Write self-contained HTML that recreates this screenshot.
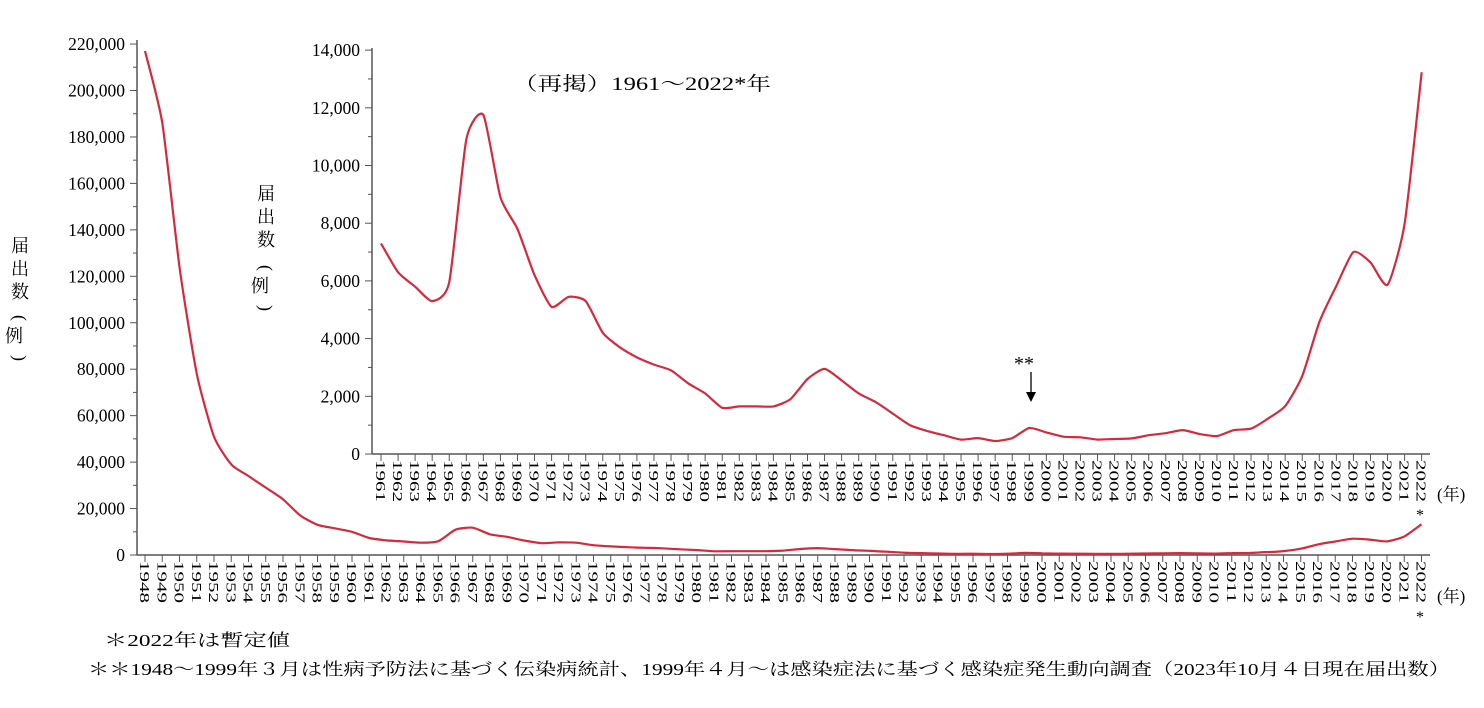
<!DOCTYPE html>
<html><head><meta charset="utf-8"><style>
body{margin:0;background:#fff;}
svg{display:block;font-family:"Liberation Serif","Noto Serif CJK SC",serif;}
</style></head><body>
<svg id="s" width="1484" height="708" xmlns="http://www.w3.org/2000/svg"></svg>
<script>
const s=document.getElementById('s');let h='';
const main=[217000,186000,124000,78000,51000,39000,34000,29000,24000,17000,13000,11500,10000];
const ins=[7300,6300,5800,5300,5950,10900,11750,8900,7800,6200,5100,5450,5300,4200,3700,3350,3100,2900,2450,2100,1600,1650,1650,1650,1900,2600,2950,2550,2100,1800,1400,1000,800,650,500,550,450,550,900,750,600,580,500,520,540,650,720,830,690,620,830,880,1230,1660,2700,4570,5830,7000,6640,5870,7980,13230];
const all=main.concat(ins);
const col="#d42a3c";
function smooth(pts){let d=`M${pts[0][0]},${pts[0][1]}`;for(let i=0;i<pts.length-1;i++){const p0=pts[i-1]||pts[i],p1=pts[i],p2=pts[i+1],p3=pts[i+2]||p2;const t=0.1;
d+=` C${(p1[0]+(p2[0]-p0[0])*t).toFixed(1)},${(p1[1]+(p2[1]-p0[1])*t).toFixed(1)} ${(p2[0]-(p3[0]-p1[0])*t).toFixed(1)},${(p2[1]-(p3[1]-p1[1])*t).toFixed(1)} ${p2[0].toFixed(1)},${p2[1].toFixed(1)}`;}return d;}
const mx0=145,mdx=17.25,my0=555,mk=46.45/20000;
h+=`<line x1="137" y1="40" x2="137" y2="555" stroke="#555" stroke-width="1.5"/><line x1="137" y1="555" x2="1430" y2="555" stroke="#555" stroke-width="1.5"/>`;
for(let i=0;i<=11;i++){let y=my0-i*20000*mk;h+=`<line x1="130" y1="${y}" x2="137" y2="${y}" stroke="#555"/>`;
if(i<11){let y2=y-10000*mk;h+=`<line x1="133" y1="${y2}" x2="137" y2="${y2}" stroke="#555"/>`;}
h+=`<text x="125" y="${y+6}" font-size="17.5" text-anchor="end">${i?(i*20)+',000':'0'}</text>`;}
for(let i=0;i<75;i++){let x=mx0+i*mdx;h+=`<line x1="${x}" y1="555" x2="${x}" y2="562" stroke="#555"/><text transform="translate(${x-5},561) rotate(90)" font-size="14" textLength="42" lengthAdjust="spacingAndGlyphs">${1948+i}</text>`;}
h+=`<path fill="none" stroke="${col}" stroke-width="2.2" d="${smooth(all.map((v,i)=>[mx0+i*mdx,my0-v*mk]))}"/>`;
const ix0=381,idx=17.06,iy0=454,ik=57.7/2000;
h+=`<line x1="372" y1="48" x2="372" y2="454" stroke="#555" stroke-width="1.5"/><line x1="372" y1="454" x2="1430" y2="454" stroke="#555" stroke-width="1.5"/>`;
for(let i=0;i<=7;i++){let y=iy0-i*2000*ik;h+=`<line x1="365" y1="${y}" x2="372" y2="${y}" stroke="#555"/>`;
if(i<7){let y2=y-1000*ik;h+=`<line x1="368" y1="${y2}" x2="372" y2="${y2}" stroke="#555"/>`;}
h+=`<text x="360" y="${y+6}" font-size="17.5" text-anchor="end">${i?(i*2)+',000':'0'}</text>`;}
for(let i=0;i<62;i++){let x=ix0+i*idx;h+=`<line x1="${x}" y1="454" x2="${x}" y2="461" stroke="#555"/><text transform="translate(${x-5},460) rotate(90)" font-size="14" textLength="42" lengthAdjust="spacingAndGlyphs">${1961+i}</text>`;}
h+=`<path fill="none" stroke="${col}" stroke-width="2.2" d="${smooth(ins.map((v,i)=>[ix0+i*idx,iy0-v*ik]))}"/>`;
h+=`<text x="1437" y="500" font-size="17">(年)</text><text x="1437" y="602" font-size="17">(年)</text>`;
h+=`<text x="1416" y="520" font-size="16">*</text><text x="1416" y="622" font-size="16">*</text>`;
h+=`<text x="513" y="90" font-size="19" textLength="258" lengthAdjust="spacingAndGlyphs">（再掲）1961～2022*年</text>`;
h+=`<text x="1014" y="370" font-size="20">**</text><line x1="1031" y1="372" x2="1031" y2="398" stroke="#000" stroke-width="1.3"/><polygon points="1026,392 1036,392 1031,402" fill="#000"/>`;
const vt=(x,y,t)=>{let r='';[...t].forEach((c,i)=>{r+=`<text x="${x}" y="${y+i*23}" font-size="18" text-anchor="middle">${c}</text>`});return r;};
const paren=(x,y)=>`<text transform="translate(${x},${y}) rotate(90)" font-size="18" text-anchor="middle">(</text>`+`<text x="${x}" y="${y+24}" font-size="18" text-anchor="middle">例</text>`+`<text transform="translate(${x},${y+40}) rotate(90)" font-size="18" text-anchor="middle">)</text>`;
h+=vt(20,252,'届出数');h+=paren(14,318);
h+=vt(266,200,'届出数');h+=paren(260,268);
h+=`<text x="104" y="646" font-size="17" textLength="186" lengthAdjust="spacingAndGlyphs">＊2022年は暫定値</text>`;
h+=`<text x="88" y="675" font-size="17" textLength="1362" lengthAdjust="spacingAndGlyphs">＊＊1948～1999年３月は性病予防法に基づく伝染病統計、1999年４月～は感染症法に基づく感染症発生動向調査（2023年10月４日現在届出数）</text>`;
s.innerHTML=h;
</script>
</body></html>
